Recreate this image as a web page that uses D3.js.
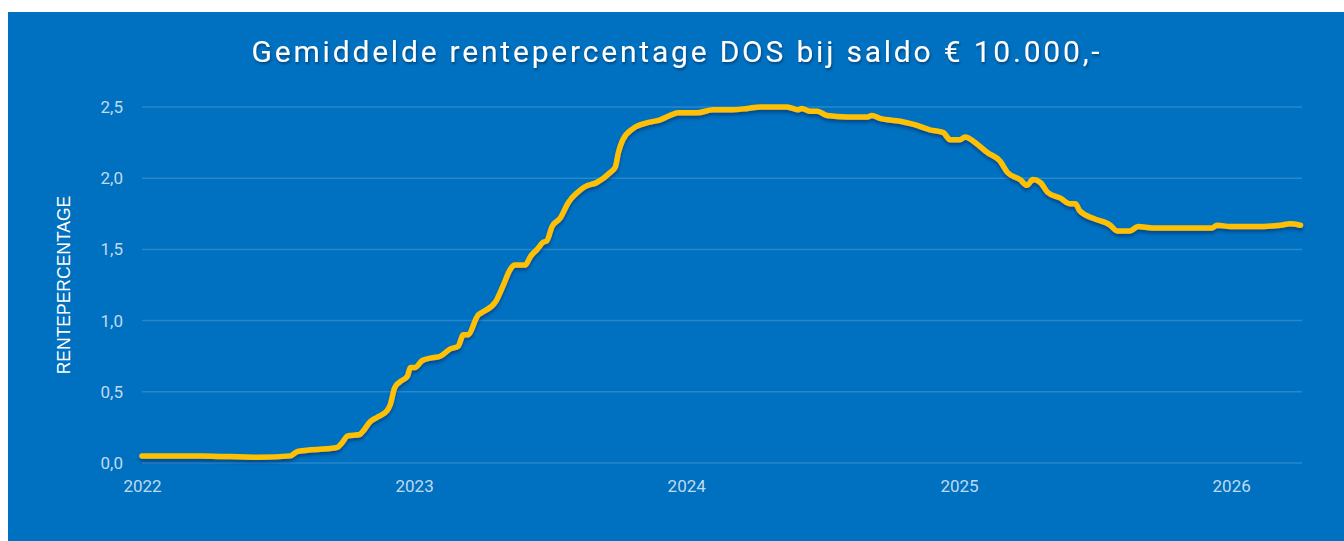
<!DOCTYPE html>
<html>
<head>
<meta charset="utf-8">
<script src="https://cdn.jsdelivr.net/npm/d3@7/dist/d3.min.js"></script>
<style>
  html, body { margin: 0; padding: 0; background: #fff; }
  svg { display: block; }
</style>
</head>
<body>
<div id="chart"></div>
<script>
const dates = [
  '2022-01-01','2022-03-20','2022-06-07','2022-07-19','2022-07-28','2022-08-10','2022-09-06','2022-09-20',
  '2022-09-26','2022-10-04','2022-10-20','2022-10-24','2022-11-03','2022-11-12','2022-11-26','2022-11-30',
  '2022-12-06','2022-12-13','2022-12-23','2022-12-27','2023-01-02','2023-01-12','2023-01-26','2023-02-05',
  '2023-02-18','2023-03-01','2023-03-08','2023-03-14','2023-03-28','2023-04-03','2023-04-20','2023-04-30',
  '2023-05-10','2023-05-16','2023-05-30','2023-06-06','2023-06-15','2023-06-23','2023-06-28','2023-07-05',
  '2023-07-16','2023-07-27','2023-08-08','2023-08-18','2023-09-03','2023-09-21','2023-09-28','2023-10-02',
  '2023-10-08','2023-10-22','2023-11-10','2023-11-27','2023-12-10','2023-12-21','2024-01-16','2024-02-06',
  '2024-02-29','2024-03-23','2024-04-09','2024-05-15','2024-05-23','2024-05-30','2024-06-04','2024-06-15',
  '2024-06-25','2024-07-08','2024-08-04','2024-08-31','2024-09-06','2024-09-17','2024-10-14','2024-10-31',
  '2024-11-23','2024-12-11','2024-12-20','2025-01-02','2025-01-09','2025-01-25','2025-02-08','2025-02-25',
  '2025-03-07','2025-03-24','2025-04-02','2025-04-10','2025-04-20','2025-04-30','2025-05-17','2025-05-30',
  '2025-06-06','2025-06-12','2025-06-29','2025-07-23','2025-08-01','2025-08-18','2025-08-29','2025-09-18',
  '2025-10-29','2025-12-06','2025-12-13','2025-12-31','2026-01-26','2026-03-08','2026-03-21','2026-04-04'
];
const rates = [
  0.05,0.05,0.04,0.05,0.08,0.09,0.10,0.11,
  0.14,0.19,0.20,0.22,0.29,0.32,0.37,0.41,
  0.53,0.57,0.61,0.67,0.67,0.72,0.74,0.75,
  0.80,0.82,0.90,0.90,1.04,1.06,1.13,1.24,
  1.36,1.39,1.39,1.45,1.50,1.55,1.56,1.66,
  1.72,1.83,1.90,1.94,1.97,2.04,2.08,2.18,
  2.27,2.35,2.39,2.41,2.44,2.46,2.46,2.48,
  2.48,2.49,2.50,2.50,2.49,2.48,2.49,2.47,
  2.47,2.44,2.43,2.43,2.44,2.42,2.40,2.38,
  2.34,2.32,2.27,2.27,2.29,2.24,2.18,2.12,
  2.04,1.99,1.95,1.99,1.97,1.90,1.86,1.82,
  1.82,1.77,1.72,1.67,1.63,1.63,1.66,1.65,
  1.65,1.65,1.67,1.66,1.66,1.67,1.68,1.67
];
const yTicks = [0, 0.5, 1, 1.5, 2, 2.5];
const xYears = ['2022','2023','2024','2025','2026'];

const width = 1344, height = 541;
const margin = { top: 107, right: 42, bottom: 78, left: 142 }; // plot 142..1302 x 107..463

const parse = d3.timeParse('%Y-%m-%d');
const data = dates.map((d, i) => ({ date: parse(d), value: rates[i] }));

const svg = d3.select('#chart').append('svg')
  .attr('width', width)
  .attr('height', height);

const defs = svg.append('defs');
const shadow = defs.append('filter').attr('id', 'lineShadow')
  .attr('x', '-5%').attr('y', '-20%').attr('width', '110%').attr('height', '140%');
shadow.append('feDropShadow')
  .attr('dx', 0).attr('dy', 3).attr('stdDeviation', 1.6)
  .attr('flood-color', '#003366').attr('flood-opacity', 0.55);

const tshadow = defs.append('filter').attr('id', 'titleShadow');
tshadow.append('feDropShadow')
  .attr('dx', 1).attr('dy', 2).attr('stdDeviation', 1)
  .attr('flood-color', '#002a55').attr('flood-opacity', 0.6);

// achtergrond
svg.append('rect')
  .attr('x', 8).attr('y', 12)
  .attr('width', width - 8).attr('height', height - 12)
  .attr('fill', '#0070c0');

const x = d3.scaleTime()
  .domain([parse('2022-01-01'), parse('2026-04-06')])
  .range([margin.left, width - margin.right]);

const y = d3.scaleLinear()
  .domain([0, 2.5])
  .range([height - margin.bottom, margin.top]);

const fmt = d3.format('.1f');

// rasterlijnen
svg.append('g')
  .selectAll('line')
  .data(yTicks)
  .join('line')
  .attr('x1', margin.left)
  .attr('x2', width - margin.right)
  .attr('y1', d => y(d))
  .attr('y2', d => y(d))
  .attr('stroke', 'rgba(255,255,255,0.16)')
  .attr('stroke-width', 1.5);

// y-as
const yAxis = svg.append('g')
  .attr('transform', `translate(${margin.left - 19},0)`)
  .call(d3.axisLeft(y).tickValues(yTicks).tickSize(0).tickPadding(0)
    .tickFormat(d => fmt(d).replace('.', ',')));
yAxis.select('.domain').remove();
yAxis.selectAll('text')
  .attr('fill', 'rgba(255,255,255,0.75)')
  .style('font-family', 'Roboto, sans-serif')
  .style('font-size', '17px');

// x-as
const xAxis = svg.append('g')
  .attr('transform', `translate(0,${height - margin.bottom + 13})`)
  .call(d3.axisBottom(x).tickValues(xYears.map(yr => parse(yr + '-01-01')))
    .tickSize(0).tickPadding(4).tickFormat(d3.timeFormat('%Y')));
xAxis.select('.domain').remove();
xAxis.selectAll('text')
  .attr('fill', 'rgba(255,255,255,0.75)')
  .style('font-family', 'Roboto, sans-serif')
  .style('font-size', '17px');

// lijn
const line = d3.line()
  .x(d => x(d.date))
  .y(d => y(d.value))
  .curve(d3.curveMonotoneX);

svg.append('path')
  .datum(data)
  .attr('d', line)
  .attr('fill', 'none')
  .attr('stroke', '#ffc000')
  .attr('stroke-width', 5.5)
  .attr('stroke-linejoin', 'round')
  .attr('stroke-linecap', 'round')
  .attr('filter', 'url(#lineShadow)');

// astitel
svg.append('text')
  .attr('transform', `translate(70,${(margin.top + height - margin.bottom) / 2}) rotate(-90)`)
  .attr('text-anchor', 'middle')
  .attr('fill', '#ffffff')
  .style('font-family', '"Liberation Sans", Arial, sans-serif')
  .style('font-size', '17.5px')
  .text('RENTEPERCENTAGE');

// titel
svg.append('text')
  .attr('x', 677)
  .attr('y', 62)
  .attr('text-anchor', 'middle')
  .attr('fill', '#ffffff')
  .attr('filter', 'url(#titleShadow)')
  .style('font-family', 'Roboto, sans-serif')
  .style('font-size', '30px')
  .style('letter-spacing', '2.8px')
  .text('Gemiddelde rentepercentage DOS bij saldo € 10.000,-');
</script>
</body>
</html>
